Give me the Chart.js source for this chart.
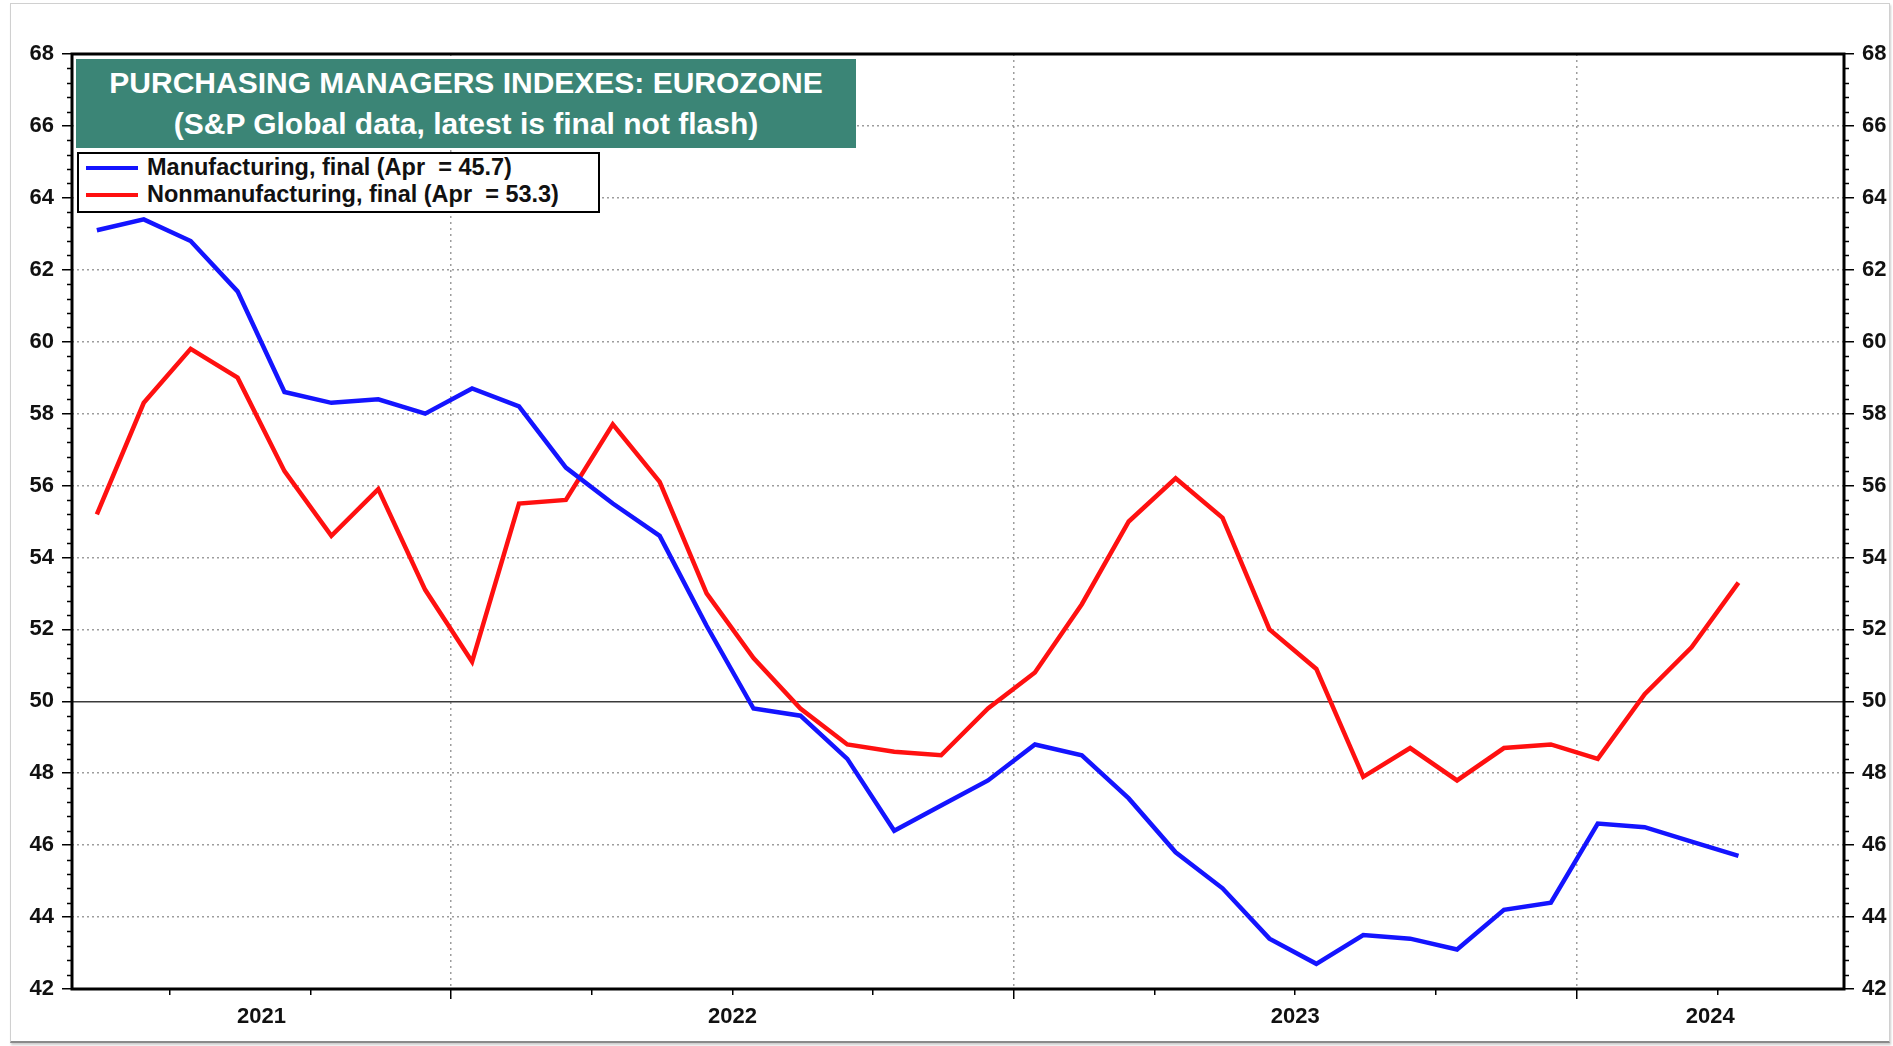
<!DOCTYPE html>
<html lang="en">
<head>
<meta charset="utf-8">
<title>Purchasing Managers Indexes: Eurozone</title>
<script src="https://cdn.jsdelivr.net/npm/chart.js@4.4.1/dist/chart.umd.min.js"></script>
<style>
    html, body { margin: 0; padding: 0; background: #fff; }
    body {
        width: 1893px; height: 1046px; position: relative; overflow: hidden;
        font-family: "Liberation Sans", Arial, sans-serif;
    }
    #frame {
        position: absolute; left: 10px; top: 3px; width: 1878px; height: 1037px;
        border: 1px solid #d0d0d0; border-bottom: 2px solid #8a8a8a;
        box-shadow: 1px 2px 2px rgba(0, 0, 0, 0.2);
    }
    #chartWrap { position: absolute; left: 0; top: 0; width: 1893px; height: 1046px; }
    #titleBox {
        position: absolute; left: 76px; top: 59px; width: 780px; height: 89px;
        box-sizing: border-box; padding-top: 3px;
        background: #3b8576; color: #fff;
        font-weight: bold; font-size: 30px; line-height: 41px; text-align: center;
    }
    #legendBox {
        position: absolute; left: 77px; top: 152px; width: 523px; height: 61px;
        box-sizing: border-box; border: 2.5px solid #000; background: #fff;
        font-weight: bold; font-size: 23.5px; color: #111;
    }
    .legend-row { position: relative; height: 27px; line-height: 27px; padding-left: 68px; white-space: pre; }
    .legend-swatch { position: absolute; left: 7px; top: 11.5px; width: 52px; height: 4px; }
</style>
</head>
<body>
<div id="frame"></div>
<div id="chartWrap"><canvas id="pmiChart"></canvas></div>
<div id="titleBox">PURCHASING MANAGERS INDEXES: EUROZONE<br>(S&amp;P Global data, latest is final not flash)</div>
<div id="legendBox"></div>

<script>
// monthly readings, May 2021 - Apr 2024
const months = [
    '2021-05', '2021-06', '2021-07', '2021-08', '2021-09', '2021-10', '2021-11', '2021-12',
    '2022-01', '2022-02', '2022-03', '2022-04', '2022-05', '2022-06',
    '2022-07', '2022-08', '2022-09', '2022-10', '2022-11', '2022-12',
    '2023-01', '2023-02', '2023-03', '2023-04', '2023-05', '2023-06',
    '2023-07', '2023-08', '2023-09', '2023-10', '2023-11', '2023-12',
    '2024-01', '2024-02', '2024-03', '2024-04'
];

const manufacturing = [
    63.1, 63.4, 62.8, 61.4, 58.6, 58.3, 58.4, 58.0,
    58.7, 58.2, 56.5, 55.5, 54.6, 52.1, 49.8, 49.6, 48.4, 46.4, 47.1, 47.8,
    48.8, 48.5, 47.3, 45.8, 44.8, 43.4, 42.7, 43.5, 43.4, 43.1, 44.2, 44.4,
    46.6, 46.5, 46.1, 45.7
];

const nonManufacturing = [
    55.2, 58.3, 59.8, 59.0, 56.4, 54.6, 55.9, 53.1,
    51.1, 55.5, 55.6, 57.7, 56.1, 53.0, 51.2, 49.8, 48.8, 48.6, 48.5, 49.8,
    50.8, 52.7, 55.0, 56.2, 55.1, 52.0, 50.9, 47.9, 48.7, 47.8, 48.7, 48.8,
    48.4, 50.2, 51.5, 53.3
];

const seriesNames = ['Manufacturing', 'Nonmanufacturing'];
const seriesColors = ['#1414ff', '#ff1010'];
const monthNames = ['Jan', 'Feb', 'Mar', 'Apr', 'May', 'Jun', 'Jul', 'Aug', 'Sep', 'Oct', 'Nov', 'Dec'];

const yearLabels = ['2021', '2022', '2023', '2024'];
const yTickValues = [42, 44, 46, 48, 50, 52, 54, 56, 58, 60, 62, 64, 66, 68];
const yMinorStep = 0.4;

// x runs in months since Jan 2021; visible window is end of Apr 2021 to late Jun 2024
const baseYear = 2021;
const xMin = 3.92;
const xMax = 41.7;

const gridGray = 'rgba(140, 140, 140, 0.85)';
const clear = 'rgba(0, 0, 0, 0)';

function monthToX(key) {
    const [year, month] = key.split('-').map(Number);
    return (year - baseYear) * 12 + (month - 1) + 0.45;
}

function toPoints(values) {
    return months.map((m, i) => ({ x: monthToX(m), y: values[i] }));
}

// year starts carry the grid line, quarters get a short mark,
// labels sit in the middle of the visible part of each year
function buildXTicks(min, max) {
    const ticks = [];
    yearLabels.forEach(label => {
        const start = (Number(label) - baseYear) * 12;
        const end = start + 12;
        for (let m = start; m < end; m += 3) {
            if (m > min && m < max) {
                ticks.push({ value: m, kind: m === start ? 'year' : 'quarter', text: '' });
            }
        }
        const a = Math.max(start, min);
        const b = Math.min(end, max);
        if (b > a) {
            ticks.push({ value: (a + b) / 2, kind: 'label', text: label });
        }
    });
    return ticks;
}

function tickKind(c) {
    return c.tick ? c.tick.kind : '';
}

// minor ticks on both value axes and the black frame round the plot
const axisDecor = {
    id: 'axisDecor',
    afterDraw(chart) {
        const { ctx, chartArea: area, scales } = chart;
        const y = scales.y;
        ctx.save();
        ctx.strokeStyle = '#000';
        ctx.lineWidth = 1.5;
        ctx.setLineDash([]);
        ctx.beginPath();
        const perMajor = Math.round(2 / yMinorStep);
        const steps = Math.round((y.max - y.min) / yMinorStep);
        for (let k = 0; k <= steps; k++) {
            if (k % perMajor === 0) continue;
            const py = Math.round(y.getPixelForValue(y.min + k * yMinorStep)) + 0.5;
            ctx.moveTo(area.left - 5, py);
            ctx.lineTo(area.left, py);
            ctx.moveTo(area.right, py);
            ctx.lineTo(area.right + 5, py);
        }
        ctx.stroke();

        ctx.lineWidth = 3;
        ctx.strokeRect(area.left, area.top, area.right - area.left, area.bottom - area.top);
        ctx.restore();
    }
};

function yAxis(position, width, drawRefLine) {
    return {
        type: 'linear',
        position: position,
        min: 42,
        max: 68,
        afterBuildTicks: scale => { scale.ticks = yTickValues.map(v => ({ value: v })); },
        afterFit: scale => { scale.width = width; },
        border: { display: false, dash: drawRefLine ? [] : [2, 3] },
        grid: {
            // left axis: dotted grid; right axis: only the solid 50 line
            color: c => {
                const v = c.tick ? c.tick.value : null;
                if (drawRefLine) return v === 50 ? '#3a3a3a' : clear;
                return (v === 42 || v === 50 || v === 68) ? clear : gridGray;
            },
            lineWidth: 1.5,
            tickLength: 10,
            tickColor: '#000',
            tickWidth: 1.5
        },
        ticks: {
            color: '#111',
            padding: 8,
            font: { size: 22, weight: 'bold' },
            callback: value => String(value)
        }
    };
}

function buildLegend(chart) {
    const box = document.getElementById('legendBox');
    const lastMonth = monthNames[Number(months[months.length - 1].split('-')[1]) - 1];
    chart.data.datasets.forEach(ds => {
        const last = ds.data[ds.data.length - 1].y;
        const row = document.createElement('div');
        row.className = 'legend-row';
        const swatch = document.createElement('span');
        swatch.className = 'legend-swatch';
        swatch.style.background = ds.borderColor;
        row.appendChild(swatch);
        row.appendChild(document.createTextNode(`${ds.label}, final (${lastMonth}  = ${last.toFixed(1)})`));
        box.appendChild(row);
    });
}

Chart.defaults.font.family = '"Liberation Sans", Arial, sans-serif';

const chart = new Chart(document.getElementById('pmiChart').getContext('2d'), {
    type: 'line',
    data: {
        datasets: [manufacturing, nonManufacturing].map((values, i) => ({
            label: seriesNames[i],
            data: toPoints(values),
            borderColor: seriesColors[i],
            backgroundColor: seriesColors[i],
            borderWidth: 4.5,
            pointRadius: 0,
            tension: 0,
            fill: false
        }))
    },
    options: {
        responsive: true,
        maintainAspectRatio: false,
        animation: false,
        layout: { padding: { top: 54, left: 0, right: 0, bottom: 0 } },
        plugins: {
            legend: { display: false },
            tooltip: { enabled: false }
        },
        scales: {
            x: {
                type: 'linear',
                min: xMin,
                max: xMax,
                afterBuildTicks: scale => { scale.ticks = buildXTicks(scale.min, scale.max); },
                afterFit: scale => { scale.height = 57; },
                border: { display: false, dash: [2, 4] },
                grid: {
                    color: c => tickKind(c) === 'year' ? gridGray : clear,
                    lineWidth: 1.5,
                    tickLength: 10,
                    tickColor: c => (tickKind(c) === 'year' || tickKind(c) === 'quarter') ? '#000' : clear,
                    tickWidth: 1.5,
                    // quarter marks come out shorter than the year marks
                    tickBorderDash: c => tickKind(c) === 'quarter' ? [6, 30] : []
                },
                ticks: {
                    autoSkip: false,
                    maxRotation: 0,
                    color: '#111',
                    padding: 5,
                    font: { size: 22, weight: 'bold' },
                    callback: (value, index, ticks) => ticks[index].text
                }
            },
            y: yAxis('left', 72, false),
            y2: yAxis('right', 49, true)
        }
    },
    plugins: [axisDecor]
});

buildLegend(chart);
</script>
</body>
</html>
